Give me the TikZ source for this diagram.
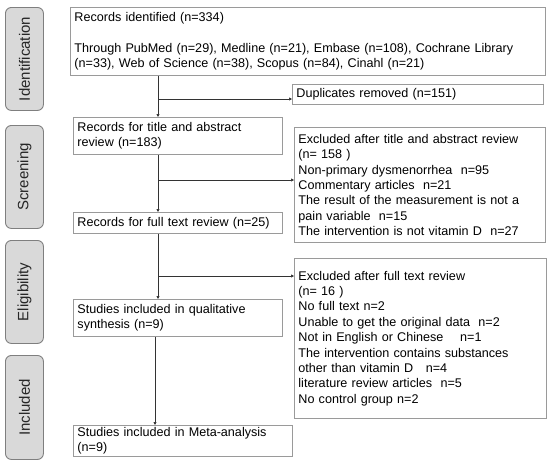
\documentclass[tikz,border=0pt]{standalone}
\usepackage{fontspec}
\setmainfont{Liberation Sans}
\usetikzlibrary{arrows.meta}
\definecolor{boxline}{HTML}{9A9A9A}
\definecolor{sidefill}{HTML}{D9D9D9}
\definecolor{sideline}{HTML}{7F7F7F}
\definecolor{arrcol}{HTML}{333333}
\begin{document}
\begin{tikzpicture}[x=1pt,y=-1pt,
  box/.style={draw=boxline, line width=0.9pt, anchor=north west, align=left,
    inner xsep=4pt, inner ysep=2pt,
    font=\fontsize{12.6pt}{15.4pt}\selectfont},
  side/.style={draw=sideline, fill=sidefill, line width=0.9pt, rounded corners=6pt,
    anchor=north west, minimum width=38pt, inner sep=0pt},
  sidetext/.style={rotate=90, font=\fontsize{15pt}{18pt}\selectfont, text=black!85},
  arr/.style={draw=arrcol, line width=0.7pt, -{Triangle[length=3pt,width=3pt]}}]
\useasboundingbox (0,0) rectangle (550,467);

% side labels
\node[side, minimum height=103pt] (sid) at (5,7) {};
\node[sidetext] (tid) at (sid.center) {Identification};
\node[side, minimum height=103pt] (ssc) at (5,125) {};
\node[sidetext] (tsc) at (ssc.center) {Screening};
\node[side, minimum height=103pt] (sel) at (5,240) {};
\node[sidetext] (tel) at (sel.center) {Eligibility};
\node[side, minimum height=104pt] (sin) at (5,355) {};
\node[sidetext] (tin) at (sin.center) {Included};

% boxes
\node[box, text width=467pt, minimum height=68pt] (rec) at (70,7)
  {Records identified (n=334)\\[15.4pt]
   Through PubMed (n=29), Medline (n=21), Embase (n=108), Cochrane Library\\
   (n=33), Web of Science (n=38), Scopus (n=84), Cinahl (n=21)};
\node[box, text width=243pt, minimum height=20pt] (dup) at (292,84)
  {Duplicates removed (n=151)};
\node[box, text width=201pt, minimum height=37pt] (tit) at (73,117)
  {Records for title and abstract\\ review (n=183)};
\node[box, text width=243pt, minimum height=115pt] (exc1) at (294,127)
  {Excluded after title and abstract review\\
   (n= 158 )\\
   Non-primary dysmenorrhea\ \ n=95\\
   Commentary articles\ \ n=21\\
   The result of the measurement is not a\\
   pain variable\ \ n=15\\
   The intervention is not vitamin D\ \ n=27};
\node[box, text width=201pt, minimum height=21pt] (full) at (73,212)
  {Records for full text review (n=25)};
\node[box, text width=244pt, minimum height=160pt] (exc2) at (294,258)
  {Excluded after full text review\\
   (n= 16 )\\
   No full text n=2\\
   Unable to get the original data\ \ n=2\\
   Not in English or Chinese\ \ \ \ n=1\\
   The intervention contains substances\\
   other than vitamin D\ \ \ n=4\\
   literature review articles\ \ n=5\\
   No control group n=2\\[8pt]};
\node[box, text width=201pt, minimum height=37pt] (qual) at (73,299)
  {Studies included in qualitative\\ synthesis (n=9)};
\node[box, text width=211pt, minimum height=27pt] (meta) at (73,425)
  {Studies included in Meta-analysis\\ (n=9)};

% connectors
\coordinate (cx) at (158,0);
\coordinate (cy) at (155,0);
\draw[arr] (cx |- rec.south) -- (cx |- tit.north);
\coordinate (b1) at (158,99);
\draw[arr] (b1) -- (b1 -| dup.west);
\draw[arr] (cx |- tit.south) -- (cx |- full.north);
\coordinate (b2) at (158,180);
\draw[arr] (b2) -- (b2 -| exc1.west);
\draw[arr] (cx |- full.south) -- (cx |- qual.north);
\coordinate (b3) at (158,276);
\draw[arr] (b3) -- (b3 -| exc2.west);
\draw[arr] (cy |- qual.south) -- (cy |- meta.north);
\end{tikzpicture}
\end{document}
